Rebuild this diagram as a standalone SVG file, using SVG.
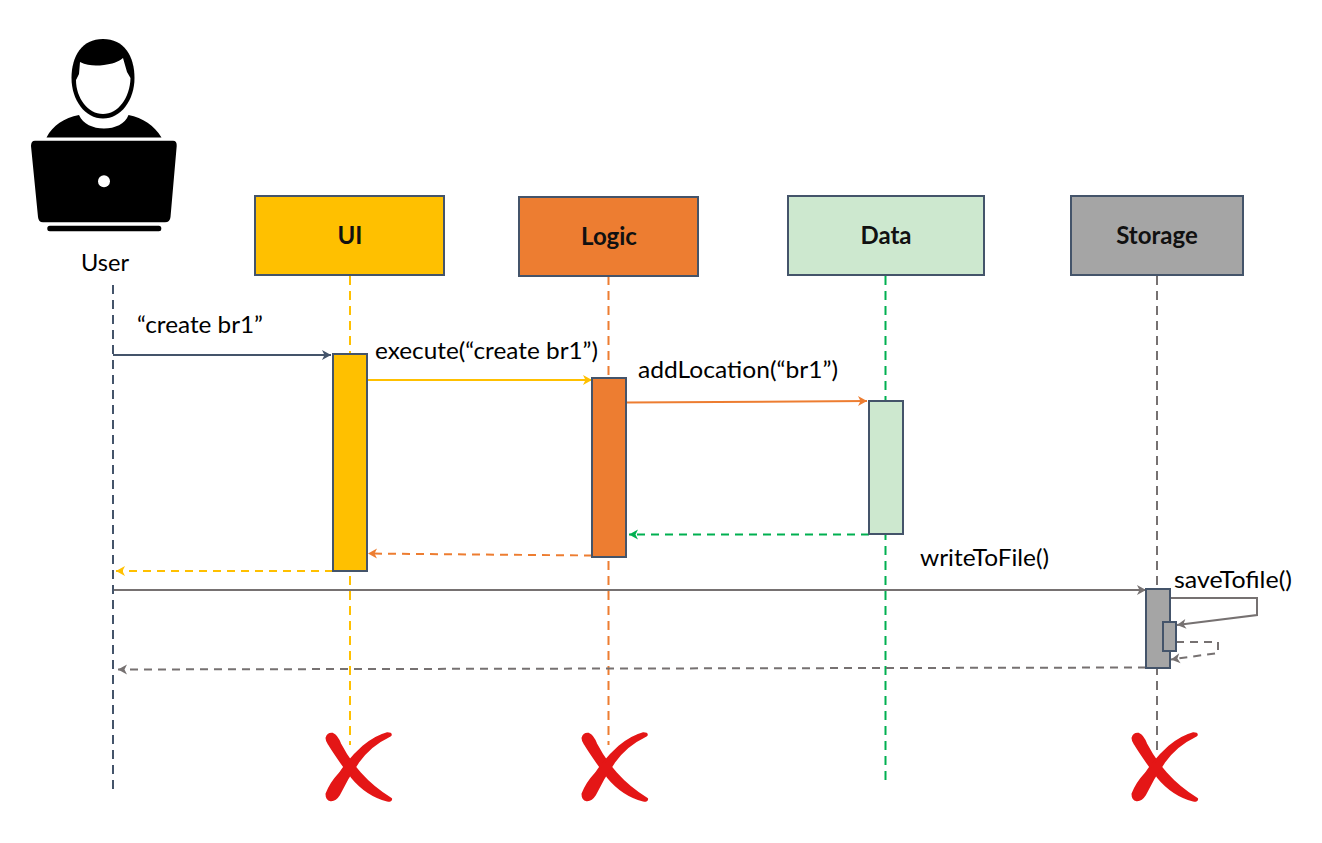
<svg xmlns="http://www.w3.org/2000/svg" width="1322" height="843" viewBox="0 0 1322 843">
<style>
text{font-family:"Lato","Open Sans","Liberation Sans",sans-serif;font-size:23px;fill:#000}
.t{font-weight:700;font-size:24px;text-anchor:middle;fill:#111}
.box{stroke:#44546a;stroke-width:2}
.ll{fill:none;stroke-width:2;stroke-dasharray:9 6}
.m{fill:none;stroke-width:2}
.d{stroke-dasharray:8 6}
</style>
<defs>
<marker id="aS" markerUnits="userSpaceOnUse" markerWidth="13" markerHeight="12" refX="10" refY="6" orient="auto"><path d="M1,1L10,6L1,11L3.500,6Z" fill="#44546a"/></marker>
<marker id="aY" markerUnits="userSpaceOnUse" markerWidth="13" markerHeight="12" refX="10" refY="6" orient="auto"><path d="M1,1L10,6L1,11L3.500,6Z" fill="#ffc000"/></marker>
<marker id="aO" markerUnits="userSpaceOnUse" markerWidth="13" markerHeight="12" refX="10" refY="6" orient="auto"><path d="M1,1L10,6L1,11L3.500,6Z" fill="#ed7d31"/></marker>
<marker id="aG" markerUnits="userSpaceOnUse" markerWidth="13" markerHeight="12" refX="10" refY="6" orient="auto"><path d="M1,1L10,6L1,11L3.500,6Z" fill="#00b050"/></marker>
<marker id="aK" markerUnits="userSpaceOnUse" markerWidth="13" markerHeight="12" refX="10" refY="6" orient="auto"><path d="M1,1L10,6L1,11L3.500,6Z" fill="#767171"/></marker>
<g id="x"><g transform="translate(310,720) scale(.3333)" fill="#e41616" stroke="#e41616" stroke-width="7" stroke-linejoin="round">
<path d="M50,54Q54,40 68,42Q80,46 90,72Q115,120 150,160Q190,205 243,237Q243,243 232,241Q170,225 125,170Q80,110 57,72Q50,62 50,54Z"/>
<path d="M241,42Q244,46 235,49Q180,75 145,125Q110,175 86,225Q76,241 62,240Q50,238 50,222Q62,190 90,160Q120,115 160,80Q195,50 232,40Z"/>
</g></g>
</defs>

<g id="connectors">
<path class="ll" stroke="#44546a" d="M113,285V790"/>
<path class="ll" stroke="#ffc000" d="M350,276V745"/>
<path class="ll" stroke="#ed7d31" d="M608.500,276V745"/>
<path class="ll" stroke="#00b050" d="M885.500,276V780"/>
<path class="ll" stroke="#767171" d="M1157,276V750"/>
<path class="m" stroke="#44546a" marker-end="url(#aS)" d="M113,355H331"/>
<path class="m" stroke="#ffc000" marker-end="url(#aY)" d="M367,380H592"/>
<path class="m" stroke="#ed7d31" marker-end="url(#aO)" d="M626,402.500L867,401"/>
<path class="m d" stroke="#00b050" marker-end="url(#aG)" d="M869,534.500H629"/>
<path class="m d" stroke="#ed7d31" marker-end="url(#aO)" d="M592,555.500L368,553.500"/>
<path class="m d" stroke="#ffc000" marker-end="url(#aY)" d="M333,571H116"/>
<path class="m" stroke="#767171" marker-end="url(#aK)" d="M114,590H1146"/>
<path class="m d" stroke="#767171" marker-end="url(#aK)" d="M1146,667.500L118,669.500"/>
<path class="m" stroke="#767171" marker-end="url(#aK)" d="M1170,598H1257V615L1177,625"/>
<path class="m d" stroke="#767171" marker-end="url(#aK)" d="M1176,642H1218V653L1171,659.500"/>
</g>

<g id="user">
<path fill="#000" d="M103,39C124,39 134.500,56 134.500,78C134.500,100 121,118.500 103,118.500C85,118.500 71.500,100 71.500,78C71.500,56 82,39 103,39Z"/>
<path fill="#fff" d="M76,80L79,74L80,62C88,66 96,66 104,65C112,64 118,62 123,58L127,72L130.500,78C130,98 118,114 103,114C88,114 76,98 76,80Z"/>
<path fill="#000" d="M46.500,137.500C53,125 64,118 79,115C83,124 93,128.500 104,128.500C115,128.500 125,124 128.500,115C143,118 154,125 161.500,137.500Z"/>
<path fill="#000" d="M35,140.700H173Q177,140.700 176.700,146L170.500,217Q170,222.300 165,222.300H43Q38.500,222.300 38,217L31,146Q31,140.700 35,140.700Z"/>
<circle cx="104" cy="181.300" r="6" fill="#fff"/>
<rect x="47.300" y="225.700" width="114" height="5.500" rx="2.500" fill="#000"/>
<text x="105" y="271" text-anchor="middle" textLength="48" lengthAdjust="spacingAndGlyphs">User</text>
</g>

<g id="ui"><rect class="box" x="255" y="196" width="189" height="79" fill="#ffc000"/><text class="t" x="350" y="244">UI</text></g>
<g id="logic"><rect class="box" x="519" y="197" width="179" height="79" fill="#ed7d31"/><text class="t" x="609" y="245">Logic</text></g>
<g id="data"><rect class="box" x="788" y="196" width="196" height="79" fill="#cde8cf"/><text class="t" x="886" y="244">Data</text></g>
<g id="storage"><rect class="box" x="1071" y="196" width="172" height="79" fill="#a5a5a5"/><text class="t" x="1157" y="244">Storage</text></g>

<g id="ui-activation"><rect class="box" x="333" y="354" width="34" height="217" fill="#ffc000"/></g>
<g id="logic-activation"><rect class="box" x="592" y="378" width="34" height="179" fill="#ed7d31"/></g>
<g id="data-activation"><rect class="box" x="869" y="401" width="34" height="133" fill="#cde8cf"/></g>
<g id="storage-activation"><rect class="box" x="1146" y="589" width="24" height="79" fill="#a5a5a5"/></g>
<g id="storage-self-activation"><rect class="box" x="1163" y="622" width="13" height="29" fill="#a5a5a5"/></g>

<g id="labels">
<text x="137" y="333" textLength="126" lengthAdjust="spacingAndGlyphs">“create br1”</text>
<text x="375" y="359" textLength="223" lengthAdjust="spacingAndGlyphs">execute(“create br1”)</text>
<text x="638" y="378" textLength="200" lengthAdjust="spacingAndGlyphs">addLocation(“br1”)</text>
<text x="920" y="566" textLength="129" lengthAdjust="spacingAndGlyphs">writeToFile()</text>
<text x="1174" y="588" textLength="118" lengthAdjust="spacingAndGlyphs">saveTofile()</text>
</g>

<g id="x-ui"><use href="#x"/></g>
<g id="x-logic"><use href="#x" x="256"/></g>
<g id="x-storage"><use href="#x" x="806"/></g>
</svg>
